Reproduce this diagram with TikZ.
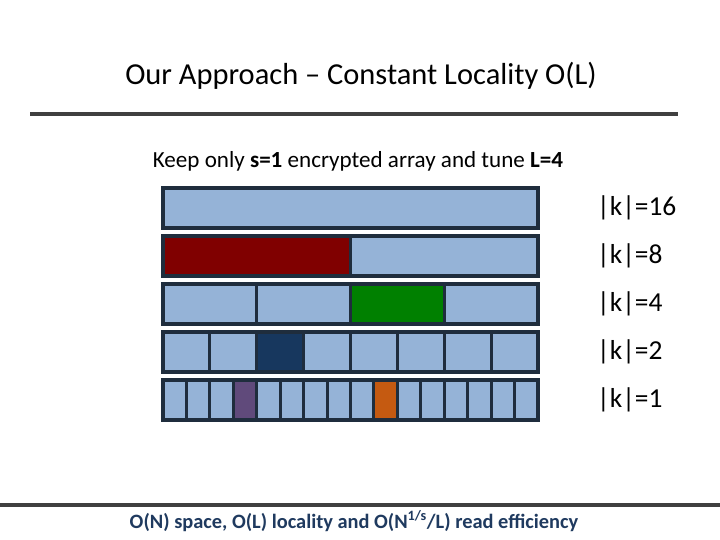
\documentclass[tikz,border=0pt]{standalone}
\usepackage{fontspec}
\setmainfont{Carlito}
\usetikzlibrary{positioning}
\definecolor{cellblue}{HTML}{95B3D7}
\definecolor{celledge}{HTML}{1F2D3D}
\definecolor{txtnavy}{HTML}{1F3A5F}
\definecolor{hitred}{HTML}{800000}
\definecolor{hitgreen}{HTML}{008000}
\definecolor{hitnavy}{HTML}{17375E}
\definecolor{hitpurple}{HTML}{604A7B}
\definecolor{hitorange}{HTML}{C55A11}
\tikzset{
	cell/.style={draw=celledge, line width=2.6pt, anchor=north west, inner sep=0pt, outer sep=0pt},
	lbl/.style={anchor=west, font=\fontsize{23.4}{27}\selectfont, inner sep=0pt},
	rule/.style={line width=2.6pt, draw=black!75}
}
\begin{document}
\begin{tikzpicture}[x=0.03cm, y=-0.03cm]
	\useasboundingbox (0,0) rectangle (720,540);
	\node (title) at (361,76) {\fontsize{26}{30}\selectfont Our Approach -- Constant Locality O(L)};
	\coordinate (t1) at (30,114); \coordinate (t2) at (678,114);
	\draw[rule] (t1) -- (t2);
	\node (intro) at (358,161) {\fontsize{19.7}{23}\selectfont Keep only \textbf{s=1} encrypted array and tune \textbf{L=4}};
	% rows of cells
	\foreach \r/\n/\y/\lab in {1/1/188/16, 2/2/236/8, 3/4/284/4, 4/8/332/2, 5/16/380/1} {
		\foreach \i in {1,...,\n} {
			\node[cell, fill=cellblue, minimum width={375/\n*0.03cm}, minimum height=40*0.03cm]
				(c-\r-\i) at ({163+(\i-1)*375/\n},\y) {};
		}
		\node[lbl] (k-\r) at (597,\y+20) {|k|=\lab};
	}
	% accessed cells
	\foreach \c/\col in {c-2-1/hitred, c-3-3/hitgreen, c-4-3/hitnavy, c-5-4/hitpurple, c-5-10/hitorange}
		\fill[\col] ([shift={(1.3pt,-1.3pt)}]\c.north west) rectangle ([shift={(-1.3pt,1.3pt)}]\c.south east);
	\coordinate (b1) at (0,505); \coordinate (b2) at (720,505);
	\draw[rule] (b1) -- (b2);
	\node[text=txtnavy, font=\bfseries\fontsize{17.4}{20}\selectfont] (summary) at (354,521) {O(N) space, O(L) locality and O(N\textsuperscript{1/s}/L) read efficiency};
\end{tikzpicture}
\end{document}
